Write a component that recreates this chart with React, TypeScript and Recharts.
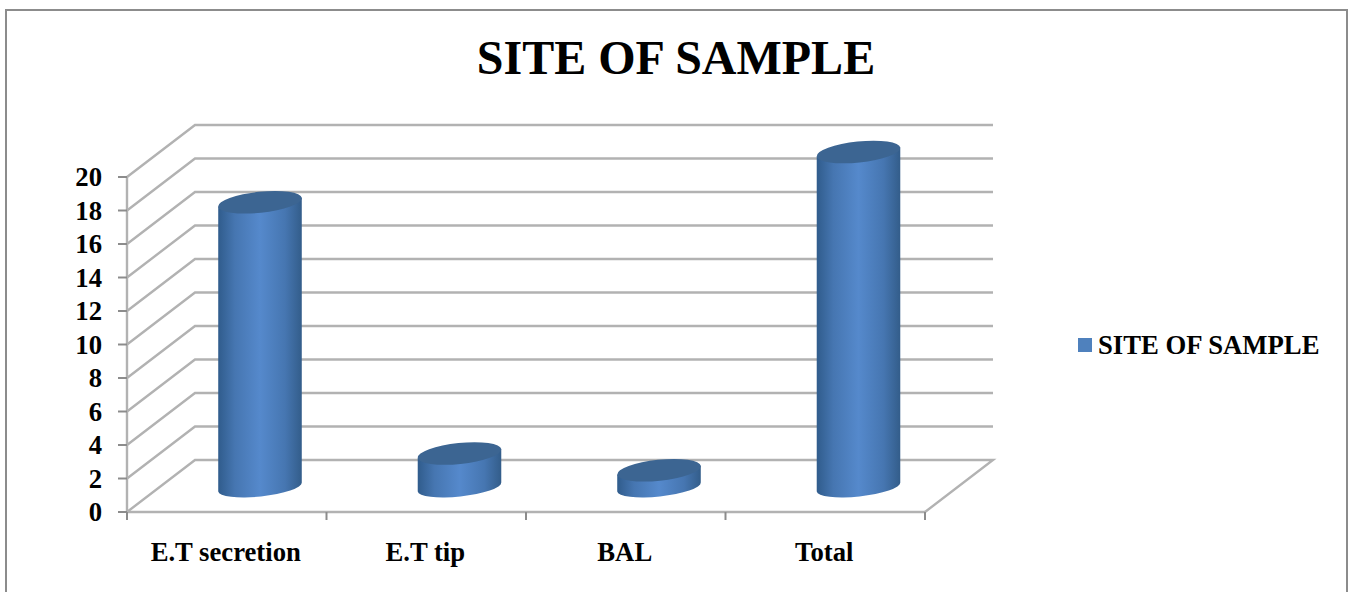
import { BarChart, Bar, CartesianGrid, Legend, XAxis, YAxis } from 'recharts'

const categories = ['E.T secretion', 'E.T tip', 'BAL', 'Total']
const sampleCounts = [17, 2, 1, 20]
const yTicks = [0, 2, 4, 6, 8, 10, 12, 14, 16, 18, 20]
const bandEdges = [0, 1, 2, 3, 4]

const chartData = categories.map((name, i) => ({ name, index: i + 0.5, count: sampleCounts[i] }))

const SERIF = '"Liberation Serif", "Times New Roman", serif'

// depth of the fake 3D box, in px
const DEPTH_X = 68
const DEPTH_Y = 52
const PLOT_RIGHT = 925

function WallLine({ x1, y1 }: any) {
  const backY = y1 - DEPTH_Y
  const isFloor = Math.abs(y1 - 512) < 1
  const points = isFloor
    ? `${x1},${y1} ${x1 + DEPTH_X},${backY} ${PLOT_RIGHT + DEPTH_X},${backY} ${PLOT_RIGHT},${y1}`
    : `${x1},${y1} ${x1 + DEPTH_X},${backY} ${PLOT_RIGHT + DEPTH_X},${backY}`
  return <polyline points={points} fill="none" stroke="#b2b2b2" strokeWidth={2.4} />
}

function Cylinder({ x, y, width, height, index }: any) {
  const rx = width / 2
  const ry = 10.5
  const tilt = (6 * Math.PI) / 180
  // cylinders stand halfway into the box
  const cx = x + rx + DEPTH_X / 2 - 1
  const topY = y - 25
  const bottomY = y + height - 25
  const ex = rx * Math.cos(tilt)
  const ey = rx * Math.sin(tilt)
  const gradId = `cyl-${index}`
  const body =
    `M${cx - ex},${topY + ey} L${cx - ex},${bottomY + ey} ` +
    `A${rx},${ry - 1} -6 0 0 ${cx + ex},${bottomY - ey} ` +
    `L${cx + ex},${topY - ey} Z`
  return (
    <g>
      <defs>
        <linearGradient id={gradId} x1="0" y1="0" x2="1" y2="0">
          <stop offset="0" stopColor="#305c8c" />
          <stop offset="0.2" stopColor="#4676b1" />
          <stop offset="0.5" stopColor="#5589cc" />
          <stop offset="0.8" stopColor="#4676b1" />
          <stop offset="1" stopColor="#335d8a" />
        </linearGradient>
      </defs>
      <path d={body} fill={`url(#${gradId})`} />
      <ellipse cx={cx} cy={topY} rx={rx} ry={ry} fill="#3c6592" transform={`rotate(-6 ${cx} ${topY})`} />
    </g>
  )
}

// short mark under the baseline, no text
function EdgeTick({ x, y }: any) {
  return <line x1={x} x2={x} y1={y - 8} y2={y} stroke="#8c8c8c" strokeWidth={2} />
}

function LegendRow({ payload }: any) {
  return (
    <div style={{ display: 'flex', alignItems: 'center', gap: 6 }}>
      {(payload || []).map((entry: any) => (
        <div key={entry.value} style={{ display: 'flex', alignItems: 'center', gap: 6 }}>
          <div style={{ width: 14, height: 14, background: entry.color }} />
          <span style={{ color: '#000', fontWeight: 700, fontSize: 26.7, lineHeight: '32px', fontFamily: SERIF }}>
            {entry.value}
          </span>
        </div>
      ))}
    </div>
  )
}

export default function App() {
  return (
    <div style={{ position: 'absolute', left: 0, top: 0, width: 1349, height: 592, background: '#fff', overflow: 'hidden' }}>
      <div
        style={{
          position: 'absolute',
          left: 5,
          top: 9,
          width: 1343,
          height: 590,
          border: '2px solid #8c8c8c',
          boxSizing: 'border-box',
        }}
      />
      <div
        style={{
          position: 'absolute',
          left: 0,
          width: 1352,
          top: 30,
          textAlign: 'center',
          fontFamily: SERIF,
          fontWeight: 700,
          fontSize: 48,
          lineHeight: '56px',
          color: '#000',
        }}
      >
        SITE OF SAMPLE
      </div>
      <div style={{ position: 'absolute', left: 0, top: 0 }}>
        <BarChart
          width={1349}
          height={592}
          data={chartData}
          barSize={84}
          margin={{ top: 177, right: 424, bottom: 20, left: 27 }}
          style={{ fontFamily: SERIF }}
        >
          <CartesianGrid vertical={false} horizontal={(props: any) => <WallLine key={props.index} {...props} />} />
          {/* baseline and the ticks between categories */}
          <XAxis
            xAxisId={0}
            type="number"
            dataKey="index"
            domain={[0, 4]}
            ticks={bandEdges}
            interval={0}
            height={1}
            tick={(props: any) => <EdgeTick {...props} />}
            tickSize={8}
            tickMargin={0}
            tickLine={false}
            axisLine={{ stroke: '#b2b2b2', strokeWidth: 2.4 }}
          />
          <XAxis
            xAxisId={1}
            dataKey="name"
            height={59}
            interval={0}
            tickLine={false}
            axisLine={false}
            tickMargin={23}
            dx={-1}
            tick={{ fill: '#000', fontSize: 26.7, fontWeight: 700 }}
          />
          <YAxis
            width={100}
            domain={[0, 20]}
            ticks={yTicks}
            interval={0}
            tickSize={9}
            tickMargin={16}
            axisLine={{ stroke: '#b2b2b2', strokeWidth: 2.4 }}
            tickLine={{ stroke: '#8c8c8c', strokeWidth: 2 }}
            tick={{ fill: '#000', fontSize: 26.7, fontWeight: 700 }}
          />
          <Legend
            layout="horizontal"
            align="center"
            verticalAlign="middle"
            wrapperStyle={{ left: 1078, top: 329, width: 260, right: 'auto', bottom: 'auto' }}
            content={(props: any) => <LegendRow {...props} />}
          />
          <Bar
            xAxisId={1}
            dataKey="count"
            name="SITE OF SAMPLE"
            fill="#4f81bd"
            isAnimationActive={false}
            shape={(props: any) => <Cylinder {...props} />}
          />
        </BarChart>
      </div>
    </div>
  )
}
